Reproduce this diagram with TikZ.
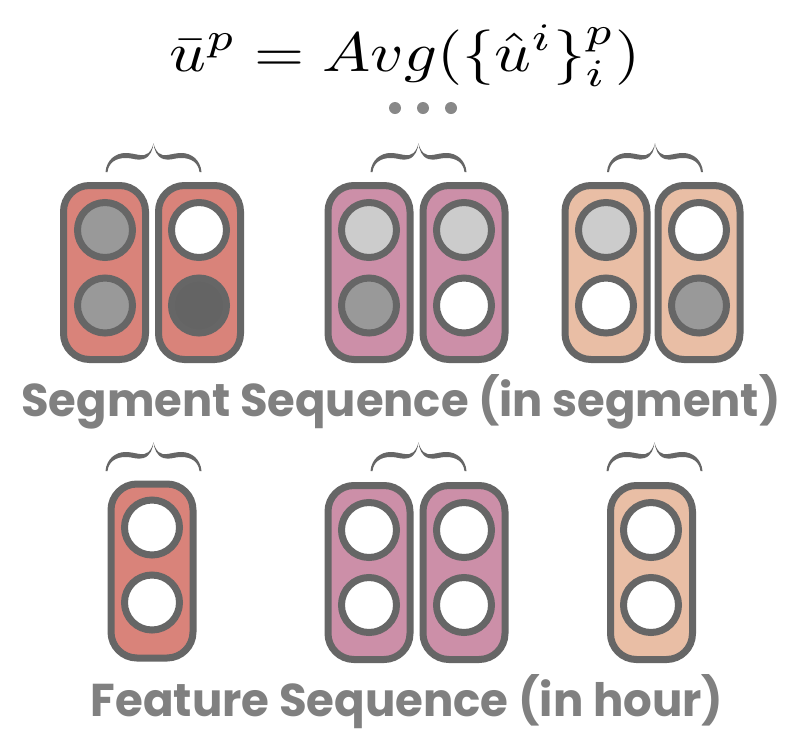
\documentclass[tikz,border=0pt]{standalone}
\usepackage{fontspec}
\newfontfamily\popfont{Poppins}
\definecolor{edgegray}{RGB}{102,102,102}
\definecolor{lightfill}{RGB}{204,204,204}
\definecolor{midfill}{RGB}{153,153,153}
\definecolor{darkfill}{RGB}{100,100,100}
\definecolor{boxred}{RGB}{217,131,122}
\definecolor{boxpink}{RGB}{204,143,168}
\definecolor{boxpeach}{RGB}{233,190,165}
\definecolor{labelgray}{RGB}{128,128,128}
\definecolor{dotgray}{RGB}{136,136,136}
\tikzset{
  cellbox/.style={draw=edgegray, line width=7pt, rounded corners=26pt, minimum width=82pt, minimum height=174pt, inner sep=0pt},
  unit/.style={circle, draw=edgegray, line width=7pt, minimum size=55pt, inner sep=0pt},
  lbl/.style={font=\popfont\bfseries\fontsize{46}{50}\selectfont, text=labelgray, inner sep=0pt, anchor=base},
  pics/bracepic/.style={code={
    \fill[edgegray] (-48,29) .. controls (-47,17) and (-38,10) .. (-28,10)
       .. controls (-18,10) and (-10,15) .. (-5,10)
       .. controls (-2,7) and (-0.5,3) .. (0,0)
       .. controls (-0.5,6) and (-3,14) .. (-10,16)
       .. controls (-16,18) and (-20,15) .. (-28,15)
       .. controls (-38,15) and (-45,20) .. (-46,29) -- cycle;
    \fill[edgegray, xscale=-1] (-48,29) .. controls (-47,17) and (-38,10) .. (-28,10)
       .. controls (-18,10) and (-10,15) .. (-5,10)
       .. controls (-2,7) and (-0.5,3) .. (0,0)
       .. controls (-0.5,6) and (-3,14) .. (-10,16)
       .. controls (-16,18) and (-20,15) .. (-28,15)
       .. controls (-38,15) and (-45,20) .. (-46,29) -- cycle;
  }}
}
\begin{document}
\begin{tikzpicture}[x=1pt,y=-1pt]
\useasboundingbox[fill=white] (0,0) rectangle (788,732);
% formula
\node[inner sep=0pt, anchor=base] (formula) at (405,71) {\scalebox{1}[0.86]{\resizebox{470pt}{!}{$\bar{u}^p = Avg(\{\hat{u}^i\}_i^p)$}}};
% dots
\fill[dotgray] (395,108) circle (6) (423,108) circle (6) (451,108) circle (6);
% braces
\pic at (153.5,143) {bracepic};
\pic at (418.5,143) {bracepic};
\pic at (655,143) {bracepic};
\pic at (153.5,442) {bracepic};
\pic at (418.5,442) {bracepic};
\pic at (654.5,442) {bracepic};
% row 1 boxes
\node[cellbox, fill=boxred] (b1) at (104.5,272.5) {};
\node[cellbox, fill=boxred] (b2) at (199.5,272.5) {};
\node[cellbox, fill=boxpink] (b3) at (369,272.5) {};
\node[cellbox, fill=boxpink] (b4) at (464,272.5) {};
\node[cellbox, fill=boxpeach] (b5) at (606,272.5) {};
\node[cellbox, fill=boxpeach] (b6) at (699,272.5) {};
% row 1 circles
\node[unit, fill=midfill] (c1a) at (105,230) {};
\node[unit, fill=midfill] (c1b) at (105,305.5) {};
\node[unit, fill=white] (c2a) at (199,230) {};
\node[unit, fill=darkfill] (c2b) at (199,305.5) {};
\node[unit, fill=lightfill] (c3a) at (369,230) {};
\node[unit, fill=midfill] (c3b) at (369,305.5) {};
\node[unit, fill=lightfill] (c4a) at (464,230) {};
\node[unit, fill=white] (c4b) at (464,305.5) {};
\node[unit, fill=lightfill] (c5a) at (606,230) {};
\node[unit, fill=white] (c5b) at (606,305.5) {};
\node[unit, fill=white] (c6a) at (699,230) {};
\node[unit, fill=midfill] (c6b) at (699,305.5) {};
% label 1
\node[lbl] (seglabel) at (401,416) {\scalebox{0.975}[1]{Segment Sequence (in segment)}};
% row 2 boxes
\node[cellbox, fill=boxred] (d1) at (152,571) {};
\node[cellbox, fill=boxpink] (d2) at (369,572.5) {};
\node[cellbox, fill=boxpink] (d3) at (464,572.5) {};
\node[cellbox, fill=boxpeach] (d4) at (651.5,572.5) {};
% row 2 circles
\node[unit, fill=white] (e1a) at (152,527.5) {};
\node[unit, fill=white] (e1b) at (152,602.5) {};
\node[unit, fill=white] (e2a) at (369,530) {};
\node[unit, fill=white] (e2b) at (369,605) {};
\node[unit, fill=white] (e3a) at (464,530) {};
\node[unit, fill=white] (e3b) at (464,605) {};
\node[unit, fill=white] (e4a) at (651,530) {};
\node[unit, fill=white] (e4b) at (651,605) {};
% label 2
\node[lbl] (featlabel) at (407,716) {\scalebox{0.98}[1]{Feature Sequence (in hour)}};
\end{tikzpicture}
\end{document}
